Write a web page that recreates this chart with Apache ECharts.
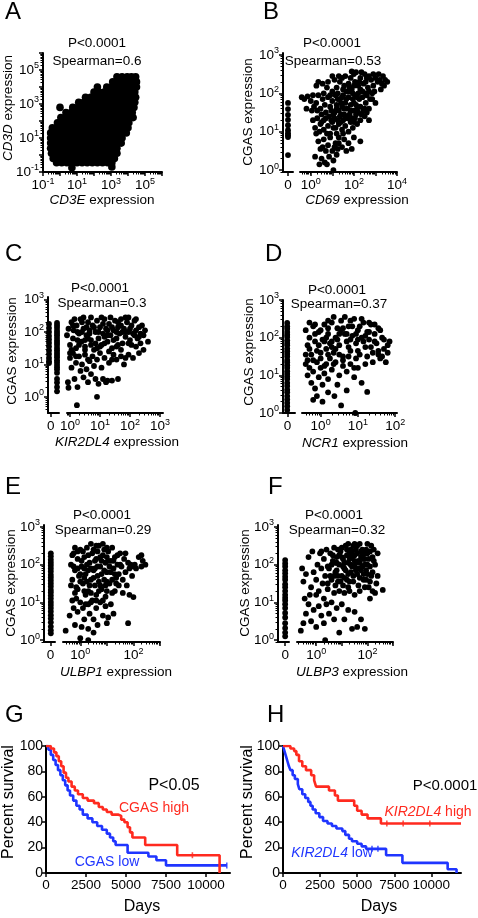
<!DOCTYPE html>
<html>
<head>
<meta charset="utf-8">
<script src="https://cdn.jsdelivr.net/npm/echarts@6.0.0/dist/echarts.min.js"></script>
<style>
html,body{margin:0;padding:0;background:#fff;}
#chart{width:478px;height:918px;}
</style>
</head>
<body>
<div id="chart"></div>
<script>
// ================= DATA (expression values are stored as log10(expression)) =================
// Panel A: rows of [log10 CD3D, log10 CD3E, log10 CD3E, ...] (dense saturated cloud)
const cd3Rows = [
  [4.6, 3.35,3.65,3.95,4.2,4.45],
  [4.3, 3.1,3.4,3.7,4.0,4.3,4.5],
  [4.0, 2.2,2.75,3.05,3.35,3.65,3.95,4.25,4.5],
  [3.7, 2.0,2.3,2.6,2.9,3.2,3.5,3.8,4.1,4.4],
  [3.4, 1.5,1.8,2.1,2.4,2.7,3.0,3.3,3.6,3.9,4.2,4.45],
  [3.1, 1.1,1.4,1.7,2.0,2.3,2.6,2.9,3.2,3.5,3.8,4.1,4.4],
  [2.8, 0.0,0.75,1.05,1.35,1.65,1.95,2.25,2.55,2.85,3.15,3.45,3.75,4.05,4.35],
  [2.5, 0.35,0.65,0.95,1.25,1.55,1.85,2.15,2.45,2.75,3.05,3.35,3.65,3.95,4.25],
  [2.2, 0.05,0.35,0.65,0.95,1.25,1.55,1.85,2.15,2.45,2.75,3.05,3.35,3.65,3.95,4.3],
  [1.9, -0.15,0.15,0.45,0.75,1.05,1.35,1.65,1.95,2.25,2.55,2.85,3.15,3.45,3.75,4.05],
  [1.6, -0.45,-0.15,0.15,0.45,0.75,1.05,1.35,1.65,1.95,2.25,2.55,2.85,3.15,3.45,3.75,4.0],
  [1.3, -0.55,-0.25,0.05,0.35,0.65,0.95,1.25,1.55,1.85,2.15,2.45,2.75,3.05,3.35,3.65,3.9],
  [1.0, -0.55,-0.25,0.05,0.35,0.65,0.95,1.25,1.55,1.85,2.15,2.45,2.75,3.05,3.35,3.65],
  [0.7, -0.55,-0.25,0.05,0.35,0.65,0.95,1.25,1.55,1.85,2.15,2.45,2.75,3.05,3.35,3.6],
  [0.4, -0.55,-0.25,0.05,0.35,0.65,0.95,1.25,1.55,1.85,2.15,2.45,2.75,3.05,3.35],
  [0.1, -0.5,-0.2,0.1,0.4,0.7,1.0,1.3,1.6,1.9,2.2,2.5,2.8,3.1,3.35],
  [-0.2, -0.4,-0.1,0.2,0.5,0.8,1.1,1.4,1.7,2.0,2.3,2.6,2.9,3.2],
  [-0.45, -0.2,0.1,0.4,0.7,1.0,1.3,1.6,1.9,2.2,2.5,2.8,3.05]
];
const cd3Outliers = [[0.7,-0.75],[3.05,-0.7]]; // [log10 CD3E, log10 CD3D]

// Panel B: [log10 CD69, log10 CGAS]; zero-CD69 samples: log10 CGAS
const cd69Pairs = [
  [1.0,2.05],[1.2,2.15],[1.35,2.3],[1.5,2.1],[1.6,2.45],[1.75,2.25],[1.85,2.4],[1.9,2.1],[2.05,2.3],[2.1,2.55],[2.2,2.2],[2.3,2.4],[2.4,2.05],[2.5,2.5],[2.55,2.3],[2.65,2.15],[2.7,2.45],[2.8,2.35],[2.9,2.2],[3.0,2.4],[3.1,2.3],[3.2,2.35],[3.3,2.25],[3.45,2.35],[2.95,2.05],[3.25,2.1],[0.75,2.15],[0.55,2.25],[0.35,2.3],[1.45,2.4],[2.0,2.5],[2.35,2.55],[1.1,2.35],[0.9,1.95],[0.26,2.2],[1.9,2.57],[3.4,2.2],[3.0,1.75],
  [-0.42,1.9],[-0.3,1.85],[-0.15,1.92],[0.0,1.8],[0.1,1.95],[-0.2,1.6],[0.05,1.55],[0.25,1.75],[0.35,1.95],[0.45,1.6],[0.55,1.85],[0.65,1.7],[0.7,1.5],[0.8,1.9],[0.9,1.65],[1.0,1.8],[1.05,1.45],[1.15,1.95],[1.2,1.7],[1.3,1.55],[1.35,1.85],[1.45,1.65],[1.5,1.95],[1.55,1.45],[1.6,1.75],[1.7,1.6],[1.75,1.9],[1.8,1.45],[1.85,1.7],[1.95,1.85],[2.0,1.55],[2.05,1.95],[2.1,1.7],[2.2,1.5],[2.25,1.85],[2.3,1.65],[2.4,1.9],[2.45,1.55],[2.55,1.75],[2.6,1.95],[2.7,1.6],[2.85,1.85],[2.2,2.0],[1.4,1.75],[1.9,1.55],[1.65,1.85],[1.25,1.85],[0.15,1.65],[0.6,2.0],
  [0.1,1.3],[0.2,1.1],[0.3,1.35],[0.4,1.0],[0.5,1.25],[0.6,1.05],[0.7,1.35],[0.8,1.15],[0.9,0.95],[0.95,1.3],[1.05,1.1],[1.1,1.35],[1.2,0.95],[1.3,1.2],[1.35,1.4],[1.45,1.05],[1.5,1.3],[1.6,1.15],[1.7,1.35],[1.75,1.0],[1.85,1.25],[1.95,1.1],[2.05,1.35],[2.15,1.2],[2.3,1.3],[2.5,1.4],[2.7,1.3],[1.0,1.25],[1.4,1.25],[0.25,0.95],
  [0.35,0.75],[0.45,0.55],[0.5,0.3],[0.6,0.8],[0.65,0.2],[0.7,0.5],[0.75,0.15],[0.8,0.65],[0.85,0.35],[0.9,0.85],[1.0,0.5],[1.05,0.25],[1.15,0.7],[1.2,0.4],[1.3,0.85],[1.05,0.0],[1.45,0.6],[1.55,0.8],[1.65,0.5],[1.75,0.7],[1.9,0.55],[2.0,0.85],[0.55,0.6],[1.1,0.6],[2.3,0.75],[1.25,0.55],[0.2,0.35],[0.4,0.15],
  [1.25,2.0],[1.45,1.9],[1.55,2.2],[1.65,2.05],[1.8,2.15],[1.95,2.0],[2.0,2.2],[2.15,1.9],[2.3,2.1],[2.45,2.25],[2.55,2.0],[2.7,2.05],[2.75,1.85],[2.85,2.0],[1.7,1.4],[1.85,1.55],[2.0,1.75],[2.15,1.6],[2.35,1.45],[2.5,1.6],[1.55,1.6],[1.4,1.45],[1.25,1.3],[1.1,1.5],[0.95,1.55],[0.85,1.4],[1.6,1.35],[1.9,1.35],[2.1,1.45],[2.6,1.5],[1.2,1.6],[0.5,1.45],[0.3,1.55],[0.6,1.3],[1.75,2.05],[2.25,2.3],[2.6,2.4],[1.3,2.45],[1.0,2.45],[0.8,2.3],[1.15,1.1],[1.5,0.95],[0.75,0.95],[0.45,1.2],[2.9,2.5],[3.35,2.45],[3.55,2.3],[3.15,2.5],[2.0,1.25],[1.3,0.7]
];
const cd69Zero = [1.75,1.59,1.44,1.31,1.17,1.04,0.96,0.91,0.86,0.39];

// Panel C: [log10 KIR2DL4, log10 CGAS]; two zero-KIR2DL4 columns
const kirPairs = [
  [-0.1,1.9],[-0.05,2.1],[0.0,1.6],[0.05,2.3],[0.1,1.8],[0.12,2.05],[0.2,1.5],[0.22,2.2],[0.3,1.95],[0.35,2.4],[0.38,1.7],[0.45,2.1],[0.5,1.55],[0.55,1.9],[0.6,2.3],[0.65,2.05],[0.7,1.75],[0.75,2.2],[0.8,1.45],[0.85,2.0],[0.9,2.35],[0.95,1.8],[1.0,2.15],[1.05,1.6],[1.1,1.95],[1.15,2.4],[1.2,2.1],[1.25,1.7],[1.3,2.25],[1.35,1.9],[1.4,1.5],[1.45,2.05],[1.5,2.35],[1.55,1.8],[1.6,2.15],[1.65,1.95],[1.7,2.4],[1.75,1.65],[1.8,2.1],[1.85,1.85],[1.9,2.3],[1.95,2.0],[2.0,1.75],[2.05,2.2],[2.1,1.95],[2.15,2.35],[2.2,2.05],[2.25,1.8],[2.3,2.15],[2.35,1.95],[2.4,2.2],[2.45,1.9],[2.6,1.7],[2.45,1.45],[0.25,1.75],[0.4,2.0],[0.7,2.45],[1.0,1.55],[1.35,2.45],[1.6,1.6],[1.85,2.45],[2.05,1.6],[0.15,2.4],[0.55,2.15],[0.85,1.65],[1.15,1.85],[1.45,1.75],[1.75,2.0],[2.2,2.4],[0.05,1.45],[0.6,1.8],[1.25,2.05],[1.95,2.45],
  [0.0,1.2],[0.05,0.9],[0.1,1.35],[0.15,0.55],[0.2,1.05],[0.25,0.3],[0.3,1.25],[0.35,0.8],[0.4,1.0],[0.45,0.6],[0.5,1.3],[0.55,0.85],[0.6,0.45],[0.65,1.1],[0.7,0.7],[0.75,1.25],[0.8,0.95],[0.85,0.55],[0.9,1.15],[0.95,0.4],[1.0,1.35],[1.05,0.9],[1.1,0.55],[1.15,1.2],[1.25,0.5],[1.3,1.05],[1.4,0.5],[1.45,1.3],[1.55,1.15],[1.6,0.55],[1.7,1.25],[1.8,1.0],[1.95,1.3],[2.1,1.2],[2.3,1.35],[0.9,0.0],[0.23,-0.26],[-0.07,0.45],[-0.05,0.28],[1.2,0.45],
  [0.1,2.2],[0.25,2.0],[0.4,2.3],[0.5,1.75],[0.65,1.95],[0.8,2.15],[0.95,2.0],[1.1,2.25],[1.25,1.9],[1.4,2.15],[1.55,2.0],[1.7,2.2],[1.85,2.0],[2.0,2.1],[2.15,1.9],[2.3,1.85],[0.3,1.6],[0.7,1.6],[1.15,1.65],[1.55,1.55],[1.95,1.65],[2.35,1.65],[0.0,1.35],[0.5,1.45],[0.9,1.5],[1.3,1.4],[1.7,1.45],[2.2,1.55],[0.45,2.45],[1.05,2.45],[1.6,2.3],[2.5,2.05],[0.2,1.25],[0.6,1.15],[1.4,1.15],[1.85,1.2]
];
const kirZeroLeft = [2.25,2.12,2.0,1.88,1.77,1.66,1.55,1.43,1.32,1.2,1.1,1.04];
const kirZeroRight = [2.28,2.2,2.13,2.04,1.97,1.9,1.82,1.74,1.67,1.6,1.51,1.44,1.36,1.29,1.22,1.13,1.06,0.98,0.91,0.84,0.74,0.55,0.44,0.3,0.17];

// Panel D: [log10 NCR1, log10 CGAS]
const ncrPairs = [
  [-0.4,2.2],[-0.35,1.8],[-0.3,2.0],[-0.25,1.55],[-0.2,2.3],[-0.15,1.9],[-0.1,1.65],[-0.05,2.15],[0.0,1.45],[0.05,1.95],[0.1,2.35],[0.15,1.7],[0.2,2.1],[0.25,1.85],[0.3,2.4],[0.35,1.6],[0.4,2.0],[0.45,2.25],[0.5,1.8],[0.55,2.45],[0.6,1.5],[0.65,2.1],[0.7,1.9],[0.75,2.3],[0.8,1.65],[0.85,2.05],[0.9,2.5],[0.95,1.85],[1.0,2.2],[1.05,1.55],[1.1,2.0],[1.15,2.4],[1.2,1.75],[1.25,2.15],[1.3,1.95],[1.35,2.35],[1.4,1.6],[1.45,2.1],[1.5,1.85],[1.55,2.25],[1.6,1.45],[1.65,2.0],[1.7,1.7],[1.75,1.35],[1.8,1.6],[1.85,1.9],[0.0,2.2],[0.2,1.55],[0.5,2.1],[0.75,1.75],[1.0,1.95],[1.25,1.5],[0.35,2.55],[0.65,2.55],[1.1,2.5],[-0.3,2.4],[0.15,2.0],[0.4,1.7],[0.85,2.3],[1.3,2.4],[1.55,1.55],[-0.15,2.1],[0.95,1.45],[0.3,1.9],[0.6,2.25],[1.2,2.05],
  [-0.4,1.3],[-0.35,1.0],[-0.3,1.2],[-0.25,0.8],[-0.2,1.1],[-0.15,0.65],[-0.1,1.35],[-0.05,0.95],[0.0,1.2],[0.05,0.75],[0.1,1.05],[0.15,1.3],[0.2,0.9],[0.3,1.15],[0.4,1.35],[0.5,1.0],[0.6,1.25],[0.7,1.1],[0.8,1.3],[0.9,0.95],[1.0,1.2],[1.2,1.3],[-0.1,0.45],[0.05,0.3],[0.2,0.55],[0.37,0.45],[0.55,0.2],[0.93,0.0],[1.25,0.56],[0.7,0.6],[-0.35,1.4],[-0.2,0.35],[1.1,0.8],[0.45,0.75],
  [-0.3,1.7],[-0.15,2.35],[-0.05,1.8],[0.1,1.9],[0.2,2.25],[0.3,1.75],[0.45,1.95],[0.55,2.2],[0.7,2.1],[0.8,1.95],[0.95,2.1],[1.05,2.3],[1.15,1.9],[1.3,2.15],[1.45,1.9],[1.6,2.2],[1.7,1.95],[0.0,1.6],[0.25,1.45],[0.5,1.55],[0.75,1.5],[1.0,1.65],[1.35,1.75],[1.55,1.65],[1.8,1.8],[-0.4,1.55],[-0.2,1.4],[0.1,1.25],[0.35,1.3],[0.6,1.4],[0.9,1.2],[1.4,1.35],[1.65,1.5],[0.2,2.45],[0.8,2.45],[1.45,2.35]
];
const ncrZero = [2.39,2.3,2.24,2.15,2.08,2.02,1.93,1.86,1.8,1.71,1.64,1.57,1.5,1.41,1.35,1.27,1.2,1.11,1.04,0.97,0.9,0.8,0.72,0.62,0.55,0.45,0.36,0.27,0.18,0.08];

// Panel E: [log10 ULBP1, log10 CGAS]
const ulbp1Pairs = [
  [-0.35,2.0],[-0.3,1.6],[-0.25,2.3],[-0.2,1.85],[-0.15,1.4],[-0.1,2.15],[-0.05,1.7],[0.0,2.4],[0.05,1.95],[0.1,1.5],[0.15,2.2],[0.2,1.75],[0.25,2.45],[0.3,1.3],[0.35,2.05],[0.4,1.6],[0.45,2.3],[0.5,1.85],[0.55,1.45],[0.6,2.15],[0.65,1.7],[0.7,2.5],[0.75,1.95],[0.8,1.35],[0.85,2.25],[0.9,1.6],[0.95,2.05],[1.0,1.8],[1.05,2.35],[1.1,1.5],[1.15,2.1],[1.2,1.25],[1.25,1.9],[1.3,2.2],[1.35,1.65],[1.4,2.0],[1.45,1.45],[1.5,2.3],[0.1,2.35],[0.3,1.85],[0.5,2.4],[0.7,1.55],[0.9,2.4],[1.1,1.95],[1.3,1.75],[-0.2,1.25],[0.2,1.2],[0.6,1.2],[1.0,1.3],[-0.3,2.25],[0.4,2.55],[0.85,2.55],[0.0,1.55],[0.45,1.05],[0.65,2.35],[1.2,2.45],[0.25,2.0],[0.75,2.2],[0.95,1.45],[1.45,1.75],[-0.1,1.9],[0.35,1.45],[0.55,1.9],[0.8,1.75],[1.05,2.1],[0.15,1.65],
  [1.55,1.95],[1.6,1.6],[1.65,2.15],[1.7,1.8],[1.75,1.45],[1.8,2.05],[1.85,1.9],[1.9,2.0],[1.95,1.7],[2.0,1.95],[2.05,2.0],[2.1,1.9],[2.2,2.2],[2.3,2.25],[2.35,2.1],[2.45,2.0],[2.3,1.95],[2.0,1.14],[1.8,0.45],[1.85,1.2],[1.6,1.25],[1.7,2.3],
  [-0.55,0.25],[-0.4,0.65],[-0.3,1.05],[-0.25,0.85],[-0.2,0.4],[-0.1,0.75],[0.0,1.0],[0.05,0.35],[0.1,0.85],[0.15,0.55],[0.2,0.95],[0.3,0.3],[0.35,0.7],[0.4,1.0],[0.5,0.55],[0.6,0.85],[0.65,0.4],[0.75,1.0],[0.85,0.65],[0.95,0.9],[1.05,0.6],[1.15,0.95],[1.25,0.7],[0.0,0.05],[0.3,0.0],[0.5,0.2],[1.0,0.45],
  [-0.25,1.95],[-0.1,2.35],[0.05,2.1],[0.15,1.9],[0.3,2.25],[0.4,1.9],[0.55,2.1],[0.65,1.95],[0.8,2.1],[0.9,1.85],[1.0,2.2],[1.15,1.8],[1.25,2.1],[1.4,2.25],[0.0,1.75],[0.25,1.55],[0.5,1.65],[0.75,1.45],[1.0,1.55],[1.2,1.6],[-0.35,1.45],[-0.1,1.35],[0.15,1.3],[0.4,1.25],[0.7,1.3],[0.95,1.15],[1.3,1.3],[-0.15,1.1],[0.3,0.95],[0.6,1.05],[0.6,2.5],[1.0,2.45],[-0.2,2.45],[1.5,2.0],[1.35,1.5],[0.85,1.05]
];
const ulbp1Zero = [2.3,2.22,2.13,2.05,1.98,1.9,1.82,1.73,1.66,1.58,1.5,1.42,1.33,1.26,1.18,1.1,1.01,0.93,0.85,0.76,0.66,0.57,0.47,0.36,0.26,0.18];

// Panel F: [log10 ULBP3, log10 CGAS]
const ulbp3Pairs = [
  [0.5,1.9],[0.55,2.3],[0.6,1.6],[0.65,2.1],[0.7,2.45],[0.75,1.8],[0.8,2.2],[0.85,1.55],[0.9,2.0],[0.95,2.35],[1.0,1.7],[1.05,2.15],[1.1,1.9],[1.15,2.5],[1.2,1.6],[1.25,2.05],[1.3,2.3],[1.35,1.8],[1.4,2.2],[1.45,1.55],[1.5,1.95],[1.55,2.4],[1.6,1.75],[1.65,2.1],[1.7,2.55],[1.75,1.85],[1.8,2.25],[1.85,1.6],[1.9,2.0],[1.95,2.4],[2.0,1.75],[2.05,2.15],[2.1,1.95],[2.15,2.5],[2.2,1.8],[2.0,2.55],[0.6,2.0],[0.8,1.85],[1.0,2.45],[1.2,2.25],[1.4,1.95],[1.6,2.5],[1.8,1.95],[2.0,2.3],[0.7,1.7],[0.9,2.25],[1.1,1.65],[1.3,1.55],[1.5,2.25],[1.7,1.65],[1.9,2.3],[2.1,1.55],[0.75,2.05],[1.05,1.95],[1.35,2.4],[1.65,1.9],[1.95,1.6],[2.25,2.1],[1.25,1.75],[1.55,2.05],[1.85,2.15],[0.95,1.55],[1.45,2.5],[1.75,2.35],[0.85,2.4],[2.3,2.0],
  [-0.55,1.9],[-0.5,1.55],[-0.45,1.1],[-0.4,1.75],[-0.3,2.2],[-0.2,1.4],[-0.15,2.35],[-0.1,1.8],[0.0,1.6],[0.05,2.0],[0.1,1.3],[0.15,2.3],[0.2,1.9],[0.25,1.5],[0.3,2.15],[0.35,1.7],[0.4,2.4],[0.45,1.35],[0.3,1.1],[0.0,1.2],[0.2,2.35],[-0.25,1.2],[0.45,1.95],
  [2.35,1.5],[2.4,1.7],[2.6,1.33],[2.2,1.3],[2.3,1.25],[2.1,1.1],[1.9,1.4],[1.7,1.3],[1.5,1.2],[1.3,1.3],[1.1,1.25],[0.9,1.3],[0.7,1.25],
  [-0.6,0.25],[-0.5,0.45],[-0.4,0.7],[-0.3,0.95],[-0.2,0.5],[-0.1,0.8],[0.0,0.35],[0.1,0.9],[0.2,0.65],[0.3,0.45],[0.4,0.95],[0.5,0.7],[0.6,1.0],[0.7,0.55],[0.8,0.85],[1.0,0.95],[1.1,0.55],[1.25,0.8],[1.4,0.3],[1.5,0.75],[1.6,0.35],[1.75,0.55],[1.9,0.3],[0.9,0.2],[0.35,0.0],
  [0.65,2.25],[0.8,2.05],[0.9,2.4],[1.0,2.2],[1.1,2.05],[1.2,2.4],[1.3,2.15],[1.4,2.35],[1.5,2.1],[1.6,2.3],[1.7,2.05],[1.8,2.4],[1.9,2.15],[2.0,2.0],[2.1,2.35],[2.2,2.2],[1.15,1.85],[1.35,2.0],[1.55,1.85],[1.75,2.2],[1.95,1.85],[2.15,1.7],[0.55,1.7],[0.85,1.7],[1.05,1.45],[1.25,1.4],[1.45,1.7],[1.65,1.45],[1.85,1.75],[2.05,1.4],[0.45,1.5],[0.75,1.45],[1.5,2.55],[1.25,2.55],[2.25,2.4],[2.4,2.3]
];
const ulbp3Zero = [2.12,2.03,1.95,1.85,1.77,1.68,1.6,1.48,1.4,1.3,1.2,1.12,1.05,0.95,0.85,0.72,0.6,0.45,0.32,0.2,0.1];

// Panels G/H: Kaplan-Meier steps [days, percent survival]
const cgasHigh = [[0,100],[300,98],[500,95],[650,92],[800,88],[950,84],[1100,79],[1250,75],[1400,72],[1600,68],[1800,65],[2000,62],[2300,59],[2600,57],[3000,55],[3300,52],[3550,50],[3800,48],[4100,46],[4500,45],[4700,42],[4900,40],[5100,36],[5250,32],[5400,28],[6200,22],[8200,14],[10850,0]];
const cgasLow = [[0,100],[150,97],[300,93],[450,89],[600,85],[750,81],[900,77],[1050,73],[1200,69],[1350,65],[1500,61],[1700,57],[1900,53],[2100,50],[2300,46],[2600,43],[2900,40],[3200,37],[3500,34],[3800,31],[4000,28],[4200,25],[4350,22],[5100,16],[6400,13],[6900,10],[7500,6],[11300,6]];
const kirHigh = [[0,100],[500,98],[750,96],[900,93],[1080,88],[1300,84],[1550,81],[1900,77],[2100,73],[2230,68],[3100,65],[3500,61],[3700,57],[4800,53],[5000,49],[5300,46],[5700,43],[6600,39],[12000,39]];
const kirLow = [[0,100],[100,96],[200,92],[300,88],[400,84],[500,81],[650,77],[800,74],[1000,70],[1100,66],[1300,62],[1500,59],[1700,56],[1850,53],[2000,50],[2200,47],[2450,44],[2700,41],[3000,39],[3300,37],[3600,35],[4000,33],[4200,30],[4450,27],[4650,25],[5000,23],[5300,21],[5600,19],[6950,14],[8050,8],[11100,3],[11700,0]];
const cgasHighCensor = [[9150,14]];
const cgasLowCensor = [[11300,6]];
const kirHighCensor = [[7000,39],[8100,39],[9900,39]];
const kirLowCensor = [[6000,19],[6400,19]];
const survivalYTicks = [0,20,40,60,80,100];
const daysTicks = [0,2500,5000,7500,10000];

// ================= BUILD =================
const FF = "'Liberation Sans', Arial, Helvetica, sans-serif";
const K = '#000';
const RED = '#ff2a1f';
const BLUE = '#1f35ff';
const grid = [], xAxis = [], yAxis = [], series = [], graphic = [];

function addGrid(left, top, width, height) { grid.push({ left, top, width, height }); return grid.length - 1; }
function pushX(a) { xAxis.push(a); return xAxis.length - 1; }
function pushY(a) { yAxis.push(a); return yAxis.length - 1; }

const SUP_RICH = {
  b: { fontFamily: FF, fontSize: 13.5, color: K, lineHeight: 17 },
  s: { fontFamily: FF, fontSize: 9, color: K, lineHeight: 10, verticalAlign: 'top' }
};
function supLabel(v) {
  const n = Math.round(v);
  return '{b|10}{s|' + (n < 0 ? '-' + (-n) : String(n)) + '}';
}
function decades(min, max) { const o = []; for (let d = Math.ceil(min - 1e-9); d <= Math.floor(max + 1e-9); d++) o.push(d); return o; }
function minorTicks(min, max) {
  const o = [];
  for (let d = Math.floor(min) - 1; d <= Math.ceil(max); d++) {
    for (let k = 2; k <= 9; k++) { const v = d + Math.log10(k); if (v >= min - 1e-9 && v <= max + 1e-9) o.push(v); }
  }
  return o;
}
function majorLog(kind, gi, min, max, labels) {
  return {
    type: 'value', gridIndex: gi, min, max, position: kind === 'x' ? 'bottom' : 'left',
    axisLine: { show: true, onZero: false, lineStyle: { color: K, width: 2 } },
    axisTick: { show: true, customValues: decades(min, max), length: 4, lineStyle: { color: K, width: 1.5 } },
    axisLabel: { show: true, customValues: labels, formatter: supLabel, rich: SUP_RICH, margin: kind === 'x' ? 5 : 4, hideOverlap: false },
    splitLine: { show: false }
  };
}
function minorLog(kind, gi, min, max) {
  return {
    type: 'value', gridIndex: gi, min, max, position: kind === 'x' ? 'bottom' : 'left',
    axisLine: { show: false, onZero: false }, axisLabel: { show: false },
    axisTick: { show: true, customValues: minorTicks(min, max), length: 2.5, lineStyle: { color: K, width: 1 } },
    splitLine: { show: false }
  };
}
function scatter(xi, yi, data, size) {
  return { type: 'scatter', xAxisIndex: xi, yAxisIndex: yi, data, symbol: 'circle', symbolSize: size,
    itemStyle: { color: K, opacity: 1 }, silent: true, clip: false, animation: false, z: 3 };
}

function buildScatterPanel(p) {
  const gm = addGrid(p.main.left, p.top, p.main.width, p.height);
  let my;
  if (p.zero) {
    const gz = addGrid(p.zero.left, p.top, p.zero.width, p.height);
    const zx = pushX({
      type: 'value', gridIndex: gz, min: 0, max: 1, position: 'bottom',
      axisLine: { show: true, onZero: false, lineStyle: { color: K, width: 2 } },
      axisTick: { show: true, customValues: [p.zero.tick], length: 4, lineStyle: { color: K, width: 1.5 } },
      axisLabel: { show: true, customValues: [p.zero.tick], formatter: () => '0', fontFamily: FF, fontSize: 13.5, color: K, margin: 6 },
      splitLine: { show: false }
    });
    const zy = pushY(majorLog('y', gz, p.ymin, p.ymax, p.ylabels));
    pushY(minorLog('y', gz, p.ymin, p.ymax));
    p.zero.cols.forEach(c => series.push(scatter(zx, zy, c.vals.map(v => [c.pos, v]), p.size)));
    my = pushY({ type: 'value', gridIndex: gm, min: p.ymin, max: p.ymax, show: false, axisLine: { onZero: false } });
  } else {
    my = pushY(majorLog('y', gm, p.ymin, p.ymax, p.ylabels));
    pushY(minorLog('y', gm, p.ymin, p.ymax));
  }
  const mx = pushX(majorLog('x', gm, p.main.min, p.main.max, p.main.labels));
  pushX(minorLog('x', gm, p.main.min, p.main.max));
  series.push(scatter(mx, my, p.data, p.size));
}

// Panel A data table
const cd3Points = [];
cd3Rows.forEach(r => { for (let i = 1; i < r.length; i++) cd3Points.push([r[i], r[0]]); });
cd3Outliers.forEach(p => cd3Points.push(p));

buildScatterPanel({ top: 53, height: 119, ymin: -1, ymax: 6, ylabels: [-1,1,3,5], size: 7.6,
  main: { left: 43, width: 119, min: -1, max: 6, labels: [-1,1,3,5] }, data: cd3Points });
buildScatterPanel({ top: 53, height: 119, ymin: -0.05, ymax: 3.05, ylabels: [0,1,2,3], size: 5.8,
  zero: { left: 283, width: 10, tick: 0.5, cols: [{ pos: 0.5, vals: cd69Zero }] },
  main: { left: 300, width: 97, min: -0.5, max: 4, labels: [0,2,4] }, data: cd69Pairs });
buildScatterPanel({ top: 297, height: 116, ymin: -0.5, ymax: 3.08, ylabels: [0,1,2,3], size: 5.8,
  zero: { left: 48, width: 11, tick: 0.25, cols: [{ pos: 0.09, vals: kirZeroLeft }, { pos: 0.82, vals: kirZeroRight }] },
  main: { left: 67, width: 96, min: -0.1, max: 3.1, labels: [0,1,2,3] }, data: kirPairs });
buildScatterPanel({ top: 300, height: 113, ymin: 0, ymax: 3, ylabels: [0,1,2,3], size: 5.8,
  zero: { left: 283, width: 12, tick: 0.38, cols: [{ pos: 0.35, vals: ncrZero }] },
  main: { left: 302, width: 95, min: -0.5, max: 2.05, labels: [0,1,2] }, data: ncrPairs });
buildScatterPanel({ top: 525, height: 117, ymin: -0.05, ymax: 3.05, ylabels: [0,1,2,3], size: 5.8,
  zero: { left: 44, width: 11, tick: 0.6, cols: [{ pos: 0.62, vals: ulbp1Zero }] },
  main: { left: 63, width: 97, min: -0.65, max: 3, labels: [0,2] }, data: ulbp1Pairs });
buildScatterPanel({ top: 525, height: 117, ymin: -0.05, ymax: 3.05, ylabels: [0,1,2,3], size: 5.8,
  zero: { left: 278, width: 11, tick: 0.65, cols: [{ pos: 0.65, vals: ulbp3Zero }] },
  main: { left: 297, width: 96, min: -0.75, max: 3, labels: [0,2] }, data: ulbp3Pairs });

// Survival panels
function buildSurvival(p) {
  const gi = addGrid(p.left, 746, p.width, 127);
  const xi = pushX({
    type: 'value', gridIndex: gi, min: 0, max: p.xmax, position: 'bottom',
    axisLine: { show: true, onZero: false, lineStyle: { color: K, width: 2 } },
    axisTick: { show: true, customValues: daysTicks, length: 4, lineStyle: { color: K, width: 1.5 } },
    axisLabel: { show: true, customValues: daysTicks, formatter: v => String(v), hideOverlap: false,
      fontFamily: FF, fontSize: 13.5, color: K, margin: 5 },
    splitLine: { show: false }
  });
  const yi = pushY({
    type: 'value', gridIndex: gi, min: 0, max: 100, position: 'left',
    axisLine: { show: true, onZero: false, lineStyle: { color: K, width: 2 } },
    axisTick: { show: true, customValues: survivalYTicks, length: 4, lineStyle: { color: K, width: 1.5 } },
    axisLabel: { show: true, customValues: survivalYTicks, formatter: v => String(v), fontFamily: FF, fontSize: 14, color: K, margin: 3 },
    splitLine: { show: false }
  });
  p.curves.forEach(c => {
    series.push({ type: 'line', xAxisIndex: xi, yAxisIndex: yi, data: c.data, step: 'end', showSymbol: false,
      lineStyle: { color: c.color, width: 2.6 }, itemStyle: { color: c.color }, silent: true, animation: false, z: c.z });
    series.push({ type: 'scatter', xAxisIndex: xi, yAxisIndex: yi, data: c.censor, symbol: 'rect', symbolSize: [1.6, 6],
      itemStyle: { color: c.color }, silent: true, animation: false, z: c.z });
  });
}
buildSurvival({ left: 46, width: 184, xmax: 11500, curves: [
  { data: cgasLow, censor: cgasLowCensor, color: BLUE, z: 2 },
  { data: cgasHigh, censor: cgasHighCensor, color: RED, z: 3 } ] });
buildSurvival({ left: 283, width: 178, xmax: 12000, curves: [
  { data: kirLow, censor: kirLowCensor, color: BLUE, z: 2 },
  { data: kirHigh, censor: kirHighCensor, color: RED, z: 3 } ] });

// ================= TEXT =================
function txt(x, y, text, o) {
  o = o || {};
  const fs = o.size || 13.5;
  const col = o.color || K;
  graphic.push({ type: 'text', x, y, rotation: o.rot || 0, silent: true, z: 10,
    style: { text, fill: col, fontFamily: FF, fontSize: fs, textAlign: o.align || 'center', textVerticalAlign: 'middle',
      rich: { i: { fontFamily: FF, fontSize: fs, fontStyle: 'italic', fill: col }, n: { fontFamily: FF, fontSize: fs, fill: col } } } });
}
const R90 = Math.PI / 2;
[['A',5,12],['B',263,12],['C',5,254],['D',265,254],['E',5,487],['F',268,487],['G',5,715],['H',267,715]]
  .forEach(l => txt(l[1], l[2], l[0], { size: 24, align: 'left' }));
txt(97, 43, 'P<0.0001'); txt(97, 61, 'Spearman=0.6');
txt(332, 43, 'P<0.0001'); txt(333, 61, 'Spearman=0.53');
txt(100, 288, 'P<0.0001'); txt(102, 303, 'Spearman=0.3');
txt(337, 290, 'P<0.0001'); txt(339, 304, 'Spearman=0.37');
txt(102, 515, 'P<0.0001'); txt(103, 530, 'Spearman=0.29');
txt(334, 515, 'P<0.0001'); txt(337, 530, 'Spearman=0.32');
txt(102, 200, '{i|CD3E}{n| expression}'); txt(8, 108, '{i|CD3D}{n| expression}', { rot: R90 });
txt(357, 200, '{i|CD69}{n| expression}'); txt(248, 112, 'CGAS expression', { rot: R90 });
txt(117, 442, '{i|KIR2DL4}{n| expression}'); txt(12, 351, 'CGAS expression', { rot: R90 });
txt(355, 443, '{i|NCR1}{n| expression}'); txt(249, 352, 'CGAS expression', { rot: R90 });
txt(116, 672, '{i|ULBP1}{n| expression}'); txt(11, 583, 'CGAS expression', { rot: R90 });
txt(352, 672, '{i|ULBP3}{n| expression}'); txt(245, 583, 'CGAS expression', { rot: R90 });
txt(9, 802, 'Percent survival', { rot: R90, size: 16 }); txt(142, 907, 'Days', { size: 16 });
txt(174, 786, 'P<0.05', { size: 16 });
txt(154, 808, 'CGAS high', { size: 14, color: RED }); txt(107, 862, 'CGAS low', { size: 14, color: BLUE });
txt(248, 802, 'Percent survival', { rot: R90, size: 16 }); txt(379, 907, 'Days', { size: 16 });
txt(445, 786, 'P<0.0001', { size: 15 });
txt(428, 812, '{i|KIR2DL4}{n| high}', { size: 14, color: RED }); txt(332, 853, '{i|KIR2DL4}{n| low}', { size: 14, color: BLUE });

const chart = echarts.init(document.getElementById('chart'), null, { renderer: 'canvas' });
chart.setOption({ animation: false, backgroundColor: '#fff', grid, xAxis, yAxis, series, graphic });
</script>
</body>
</html>
